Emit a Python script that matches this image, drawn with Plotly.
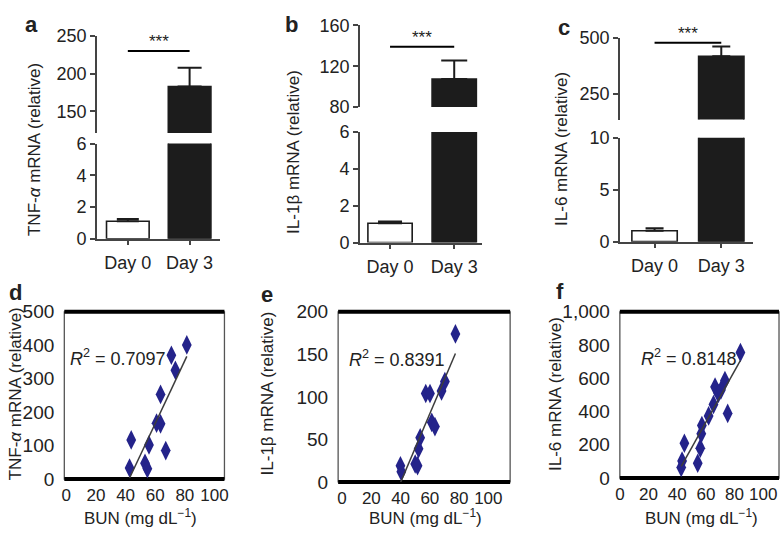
import numpy as np
import plotly.graph_objects as go

W, H = 784, 540
def X(px): return px / W
def Y(py): return 1 - py / H

FONT = "Arial, Liberation Sans, sans-serif"

# ---------------- data ----------------
days = ["Day 0", "Day 3"]
tnf_mean = [1.1, 183]
tnf_err = [0.15, 25]
il1b_mean = [1.05, 107.5]
il1b_err = [0.1, 18]
il6_mean = [1.05, 418]
il6_err = [0.25, 43]
sig_label = "***"

bun_d = [81.3, 70.9, 73.6, 63.6, 60.9, 63.6, 43.8, 55.8, 67.1, 42.7, 53.1, 54.7]
tnf_d = [401, 370, 325, 253, 167, 165, 117, 102, 85, 33, 47, 31]

bun_e = [77.5, 70.3, 68.0, 57.2, 60.1, 61.3, 63.5, 53.4, 52.3, 39.9, 40.5, 50.0, 51.6]
il1b_e = [174, 118, 107, 104, 104, 70, 65, 52, 39, 19, 12, 21, 19]

bun_f = [84.1, 73.3, 66.4, 68.7, 70.5, 65.3, 61.9, 57.2, 56.8, 75.2, 45.0, 56.1, 43.4, 54.3, 42.8]
il6_f = [755, 587, 548, 509, 530, 442, 374, 316, 267, 389, 209, 180, 103, 89, 64]

r2_values = ["0.7097", "0.8391", "0.8148"]
bun_ticks = [0, 20, 40, 60, 80, 100]

fig = go.Figure()

AX = "#444444"
DARK = "#1c1c1c"
TXT = "#222222"

# ---------------- bar panels ----------------
bar_panels = [
    dict(x="x", ylo="y", yhi="y2", mean=tnf_mean, err=tnf_err, width=0.69, cap=(11, 12),
         sig_y=230),
    dict(x="x2", ylo="y3", yhi="y4", mean=il1b_mean, err=il1b_err, width=0.69, cap=(12, 13),
         sig_y=139),
    dict(x="x3", ylo="y5", yhi="y6", mean=il6_mean, err=il6_err, width=0.68, cap=(9, 9),
         sig_y=478),
]

for p in bar_panels:
    fig.add_trace(go.Bar(
        x=[days[0]], y=[p["mean"][0]], xaxis=p["x"], yaxis=p["ylo"], width=p["width"],
        marker=dict(color="white", line=dict(color=DARK, width=1.6)),
        error_y=dict(type="data", array=[p["err"][0]], arrayminus=[0], symmetric=False,
                     color=DARK, thickness=2, width=p["cap"][0]),
        showlegend=False))
    fig.add_trace(go.Bar(
        x=[days[1]], y=[p["mean"][1]], xaxis=p["x"], yaxis=p["ylo"], width=p["width"],
        marker=dict(color=DARK, line=dict(color=DARK, width=1.6)),
        showlegend=False))
    fig.add_trace(go.Bar(
        x=[days[1]], y=[p["mean"][1]], xaxis=p["x"], yaxis=p["yhi"], width=p["width"],
        marker=dict(color=DARK, line=dict(color=DARK, width=1.6)),
        error_y=dict(type="data", array=[p["err"][1]], arrayminus=[0], symmetric=False,
                     color=DARK, thickness=2, width=p["cap"][1]),
        showlegend=False))
    fig.add_shape(type="line", xref=p["x"], yref=p["yhi"], x0=0, x1=1,
                  y0=p["sig_y"], y1=p["sig_y"], line=dict(color="black", width=2))
    fig.add_annotation(xref=p["x"], yref=p["yhi"], x=0.5, y=p["sig_y"], text=sig_label,
                       showarrow=False, yanchor="bottom", yshift=-2,
                       font=dict(size=17, color=TXT, family=FONT))

def bar_x(domain, rng):
    return dict(domain=[X(domain[0]), X(domain[1])], range=rng, type="category",
                categoryorder="array", categoryarray=days,
                showline=True, linecolor=AX, linewidth=1.5, ticks="outside", ticklen=5,
                tickcolor=AX, tickwidth=1.5, showgrid=False, zeroline=False,
                tickfont=dict(size=18, color=TXT, family=FONT), ticklabelstandoff=2)

def bar_y(domain, rng, tv, anchor):
    return dict(domain=[Y(domain[0]), Y(domain[1])], range=rng, anchor=anchor, tickvals=tv,
                showline=True, linecolor=AX, linewidth=1.5, ticks="outside", ticklen=5,
                tickcolor=AX, tickwidth=1.5, showgrid=False, zeroline=False,
                tickfont=dict(size=18, color=TXT, family=FONT))

layout = dict(
    xaxis=dict(bar_x((93, 218), [-0.5, 1.5]), anchor="y"),
    yaxis=bar_y((238, 139), [0, 6], [0, 2, 4, 6], "x"),
    yaxis2=bar_y((128, 27), [121.5, 250], [150, 200, 250], "x"),
    xaxis2=dict(bar_x((359, 483), [-0.47, 1.44]), anchor="y3"),
    yaxis3=bar_y((242, 127), [0, 6], [0, 2, 4, 6], "x2"),
    yaxis4=bar_y((101, 16), [80, 160], [80, 120, 160], "x2"),
    xaxis3=dict(bar_x((622, 757), [-0.52, 1.48]), anchor="y5"),
    yaxis5=bar_y((241, 133), [0, 10], [0, 5, 10], "x3"),
    yaxis6=bar_y((114, 29), [134.5, 500], [250, 500], "x3"),
)

# ---------------- scatter panels ----------------
sc_panels = [
    dict(x="x4", y="y7", bx=bun_d, by=tnf_d, r2=r2_values[0],
         xdom=(60, 222), xr=[-1.33, 106.7], ydom=(488, 314), yr=[0, 500],
         yt=[0, 100, 200, 300, 400, 500], r2pos=(64, 362)),
    dict(x="x5", y="y8", bx=bun_e, by=il1b_e, r2=r2_values[1],
         xdom=(337, 511), xr=[-2.7, 114.9], ydom=(491, 314), yr=[0, 200],
         yt=[0, 50, 100, 150, 200], r2pos=(346, 363)),
    dict(x="x6", y="y9", bx=bun_f, by=il6_f, r2=r2_values[2],
         xdom=(622, 783), xr=[0, 111], ydom=(487, 314), yr=[0, 1000],
         yt=[0, 200, 400, 600, 800, 1000], r2pos=(641, 362)),
]

for i, p in enumerate(sc_panels):
    bx = np.array(p["bx"], dtype=float)
    by = np.array(p["by"], dtype=float)
    fig.add_trace(go.Scatter(
        x=bx, y=by, xaxis=p["x"], yaxis=p["y"], mode="markers",
        marker=dict(symbol="diamond-tall", size=14, color="#24238a"),
        showlegend=False, cliponaxis=False))
    k, b = np.polyfit(bx, by, 1)
    xs = np.array([bx.min(), bx.max()])
    fig.add_trace(go.Scatter(
        x=xs, y=k * xs + b, xaxis=p["x"], yaxis=p["y"], mode="lines",
        line=dict(color="#3c3c3c", width=1.5), showlegend=False))
    n = 4 + i
    xa = dict(domain=[X(p["xdom"][0]), X(p["xdom"][1])], range=p["xr"], anchor=p["y"],
              tickvals=bun_ticks, showline=False, ticks="", showgrid=False, zeroline=False,
              tickfont=dict(size=17, color=TXT, family=FONT), ticklabelstandoff=4)
    ya = dict(domain=[Y(p["ydom"][0]), Y(p["ydom"][1])], range=p["yr"], anchor=p["x"],
              tickvals=p["yt"], tickformat=",d", showline=False, ticks="", showgrid=False,
              zeroline=False, tickfont=dict(size=19, color=TXT, family=FONT),
              ticklabelstandoff=9)
    layout["xaxis%d" % n] = xa
    layout["yaxis%d" % (n + 3)] = ya
    xd = p["x"] + " domain"
    yd = p["y"] + " domain"
    fig.add_shape(type="rect", xref=xd, yref=yd, x0=0, x1=1, y0=0, y1=1,
                  line=dict(color="#555", width=1.3), layer="below")
    for yy in (0, 1):
        fig.add_shape(type="line", xref=xd, yref=yd, x0=0, x1=1, y0=yy, y1=yy,
                      line=dict(color="black", width=4), layer="below")
    fig.add_annotation(xref="paper", yref="paper", x=X(p["r2pos"][0]), y=Y(p["r2pos"][1]),
                       xanchor="left", yanchor="middle", showarrow=False,
                       text="<i>R</i><sup>2</sup> = " + p["r2"],
                       font=dict(size=18, color=TXT, family=FONT))

# ---------------- text annotations ----------------
def txt(x, y, s, size=17, angle=0):
    fig.add_annotation(xref="paper", yref="paper", x=X(x), y=Y(y), text=s, showarrow=False,
                       textangle=angle, xanchor="center", yanchor="middle", borderpad=0,
                       font=dict(size=size, color=TXT, family=FONT))

for (x, y, s) in [(27, 15, "a"), (290, 15, "b"), (565, 18, "c"),
                  (11, 294, "d"), (265, 296, "e"), (561, 293, "f")]:
    txt(x, y, "<b>%s</b>" % s, size=22)

txt(30, 145, "TNF-<i>α</i> mRNA (relative)", angle=-90)
txt(292, 148, "IL-1β mRNA (relative)", angle=-90)
txt(563, 145, "IL-6 mRNA (relative)", angle=-90)
txt(11, 399, "TNF-<i>α</i> mRNA (relative)", angle=-90)
txt(266, 399, "IL-1β mRNA (relative)", angle=-90)
txt(557, 400, "IL-6 mRNA (relative)", angle=-90)
bun_title = "BUN (mg dL<sup>−1</sup>)"
txt(137, 527, bun_title)
txt(425, 527, bun_title)
txt(705, 527, bun_title)

fig.update_layout(**layout)
fig.update_layout(width=W, height=H, margin=dict(l=0, r=0, t=0, b=0),
                  paper_bgcolor="white", plot_bgcolor="white", barmode="overlay",
                  font=dict(family=FONT, color=TXT), showlegend=False)

fig.write_html("out.html", config={"displayModeBar": False},
               post_script="document.body.style.margin='0';document.body.style.overflow='hidden';")
